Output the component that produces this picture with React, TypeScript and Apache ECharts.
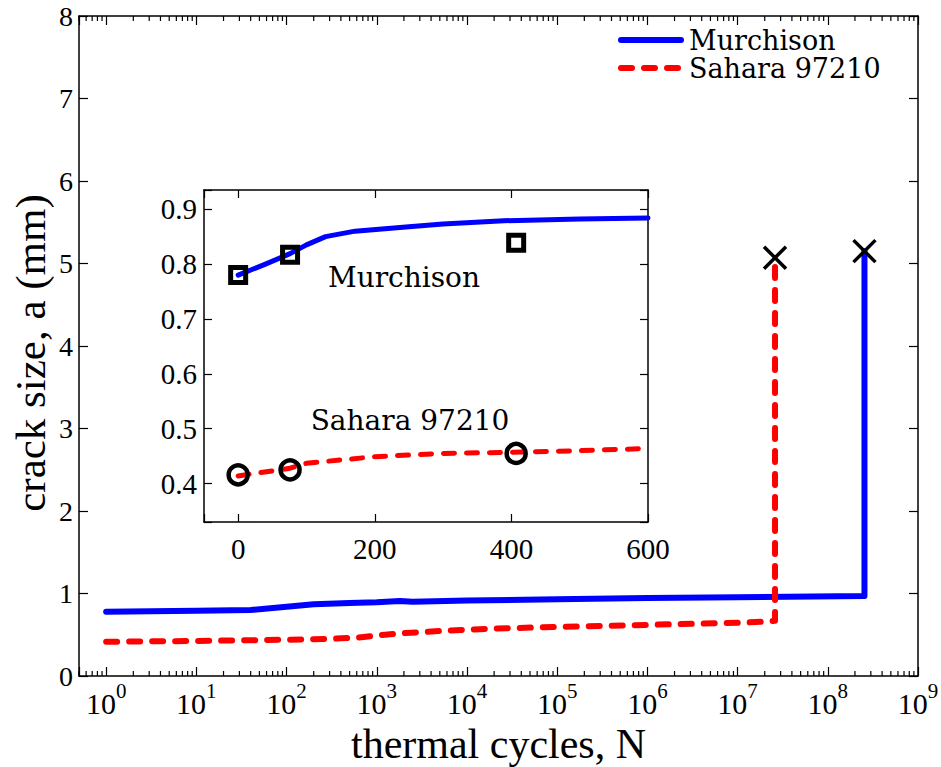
import React, { useEffect, useRef } from "react";
import * as echarts from "echarts";

// Main chart: crack size (mm) vs thermal cycles N (log scale)
const murchisonMain: [number, number][] = [
  [1, 0.78], [10, 0.79], [40, 0.8], [100, 0.84], [200, 0.87], [500, 0.885],
  [1000, 0.895], [1800, 0.91], [2500, 0.9], [10000, 0.915], [100000, 0.93],
  [1000000, 0.945], [10000000, 0.955], [255000000, 0.97], [255000000, 5.15],
];
const saharaMain: [number, number][] = [
  [1, 0.415], [10, 0.425], [100, 0.44], [300, 0.45], [600, 0.465], [1000, 0.49],
  [2000, 0.52], [6000, 0.55], [20000, 0.575], [100000, 0.595], [1000000, 0.62],
  [10000000, 0.645], [21000000, 0.66], [26000000, 0.67], [26000000, 5.07],
];
const failurePoints: [number, number][] = [
  [255000000, 5.15],
  [26000000, 5.07],
];

// Inset: early cycles, linear scale
const murchisonInsetLine: [number, number][] = [
  [0, 0.78], [40, 0.8], [76, 0.819], [100, 0.835], [128, 0.85], [171, 0.86],
  [250, 0.868], [300, 0.873], [389, 0.879], [500, 0.882], [600, 0.884],
];
const saharaInsetLine: [number, number][] = [
  [0, 0.414], [76, 0.428], [100, 0.437], [200, 0.449], [300, 0.455],
  [400, 0.457], [500, 0.46], [600, 0.464],
];
const murchisonMeasured: [number, number][] = [
  [0, 0.78], [76, 0.817], [407, 0.839],
];
const saharaMeasured: [number, number][] = [
  [0, 0.416], [76, 0.425], [407, 0.455],
];

const legendNames = ["Murchison", "Sahara 97210"];
const xAxisName = "thermal cycles, N";
const yAxisName = "crack size, a (mm)";

// minor tick values for the log axis
const minorTicks: number[] = [];
for (let k = -1; k <= 8; k++) {
  for (let m = 2; m <= 9; m++) {
    const v = m * Math.pow(10, k);
    if (v >= 0.5 && v <= 1e9) minorTicks.push(v);
  }
}

const BLUE = "#0000ff";
const RED = "#ff0000";
const SERIF = "Liberation Serif";
const CMLIKE = "DejaVu Serif";

export default function App() {
  const ref = useRef<HTMLDivElement>(null);
  useEffect(() => {
    document.body.style.margin = "0";
    const chart = echarts.init(ref.current!, null, { renderer: "svg" });
    const axisLine = { show: true, onZero: false, lineStyle: { color: "#000", width: 1.5 } };
    const mainTick = { show: true, inside: true, length: 9, lineStyle: { color: "#000", width: 1.2 } };
    const insetTick = { show: true, inside: true, length: 8, lineStyle: { color: "#000", width: 1.2 } };
    const logLabel = (v: number) => {
      const e = Math.log10(v);
      if (Math.abs(e - Math.round(e)) > 1e-6) return "";
      return `{b|10}{e|${Math.round(e)}}`;
    };
    const option: any = {
      animation: false,
      backgroundColor: "#fff",
      textStyle: { fontFamily: SERIF, color: "#000" },
      grid: [
        { left: 79, top: 16, width: 839, height: 660, show: false, containLabel: false, outerBoundsMode: "none" },
        {
          left: 204, top: 190, width: 444, height: 332, show: true, backgroundColor: "#fff", borderWidth: 0,
          containLabel: false, outerBoundsMode: "none",
        },
      ],
      legend: {
        data: legendNames,
        orient: "vertical",
        left: 613,
        top: 21,
        itemWidth: 60,
        itemHeight: 14,
        itemGap: 0,
        itemStyle: { color: "rgba(0,0,0,0)", borderWidth: 0, opacity: 0 },
        lineStyle: { width: 6, cap: "round" },
        textStyle: { fontFamily: CMLIKE, fontSize: 27, lineHeight: 28, color: "#000", padding: [0, 0, 0, 3] },
      },
      xAxis: [
        {
          type: "log", logBase: 10, gridIndex: 0, min: 0.5, max: 1e9, position: "bottom",
          axisLine, axisTick: mainTick, splitLine: { show: false },
          axisLabel: {
            margin: 4, formatter: logLabel,
            rich: {
              b: { fontSize: 30, fontFamily: SERIF, color: "#000", lineHeight: 38, verticalAlign: "bottom" },
              e: { fontSize: 21, fontFamily: SERIF, color: "#000", lineHeight: 21, verticalAlign: "top" },
            },
          },
          name: xAxisName, nameLocation: "middle", nameGap: 50, nameMoveOverlap: false,
          nameTextStyle: { fontFamily: SERIF, fontSize: 42, lineHeight: 36, color: "#000" },
        },
        {
          type: "log", logBase: 10, gridIndex: 0, min: 0.5, max: 1e9, position: "top",
          axisLine, axisTick: mainTick, splitLine: { show: false }, axisLabel: { show: false },
        },
        {
          type: "value", gridIndex: 1, min: -50, max: 600, splitNumber: 3, position: "bottom",
          axisLine, axisTick: insetTick, splitLine: { show: false },
          axisLabel: {
            margin: 12, fontSize: 29, fontFamily: SERIF, color: "#000",
            formatter: (v: number) => (Math.abs(v % 200) < 1e-6 ? String(v) : ""),
          },
        },
        {
          type: "value", gridIndex: 1, min: -50, max: 600, splitNumber: 3, position: "top",
          axisLine, axisTick: insetTick, splitLine: { show: false }, axisLabel: { show: false },
        },
      ],
      yAxis: [
        {
          type: "value", gridIndex: 0, min: 0, max: 8, interval: 1, position: "left",
          axisLine, axisTick: mainTick, splitLine: { show: false },
          axisLabel: { margin: 6, fontSize: 28, fontFamily: SERIF, color: "#000" },
          name: yAxisName, nameLocation: "middle", nameGap: 27, nameMoveOverlap: false,
          nameTextStyle: { fontFamily: SERIF, fontSize: 43, lineHeight: 43, color: "#000", padding: [0, 14, 0, 0] },
        },
        {
          type: "value", gridIndex: 0, min: 0, max: 8, interval: 1, position: "right",
          axisLine, axisTick: mainTick, splitLine: { show: false }, axisLabel: { show: false },
        },
        {
          type: "value", gridIndex: 1, min: 0.33, max: 0.935, splitNumber: 6, position: "left",
          axisLine, axisTick: insetTick, splitLine: { show: false },
          axisLabel: {
            margin: 7, fontSize: 29, fontFamily: SERIF, color: "#000",
            formatter: (v: number) => (Math.abs(v * 10 - Math.round(v * 10)) < 1e-6 ? v.toFixed(1) : ""),
          },
        },
        {
          type: "value", gridIndex: 1, min: 0.33, max: 0.935, splitNumber: 6, position: "right",
          axisLine, axisTick: insetTick, splitLine: { show: false }, axisLabel: { show: false },
        },
      ],
      series: [
        {
          name: "Murchison", type: "line", xAxisIndex: 0, yAxisIndex: 0, data: murchisonMain,
          symbol: "none", lineStyle: { color: BLUE, width: 6, cap: "round", join: "round" },
          itemStyle: { color: BLUE }, z: 3,
        },
        {
          name: "Sahara 97210", type: "line", xAxisIndex: 0, yAxisIndex: 0, data: saharaMain,
          symbol: "none", lineStyle: { color: RED, width: 6, type: [11, 12], cap: "round", join: "round" },
          itemStyle: { color: RED }, z: 3,
        },
        {
          name: "Murchison", type: "line", xAxisIndex: 2, yAxisIndex: 2, data: murchisonInsetLine,
          symbol: "none", lineStyle: { color: BLUE, width: 5, cap: "round", join: "round" },
          itemStyle: { color: BLUE }, z: 3,
        },
        {
          name: "Sahara 97210", type: "line", xAxisIndex: 2, yAxisIndex: 2, data: saharaInsetLine,
          symbol: "none", lineStyle: { color: RED, width: 5, type: [11, 12], cap: "round", join: "round" },
          itemStyle: { color: RED }, z: 3,
        },
        {
          name: "Murchison measured", type: "scatter", xAxisIndex: 2, yAxisIndex: 2, data: murchisonMeasured,
          symbol: "rect", symbolSize: 15,
          itemStyle: { color: "rgba(255,255,255,0)", borderColor: "#000", borderWidth: 5, opacity: 1 }, z: 4,
        },
        {
          name: "Sahara measured", type: "scatter", xAxisIndex: 2, yAxisIndex: 2, data: saharaMeasured,
          symbol: "circle", symbolSize: 19,
          itemStyle: { color: "rgba(255,255,255,0)", borderColor: "#000", borderWidth: 4.5, opacity: 1 }, z: 4,
        },
        {
          name: "failure", type: "scatter", xAxisIndex: 0, yAxisIndex: 0, data: failurePoints,
          symbol: "path://M0,0L10,10M10,0L0,10", symbolSize: 22, symbolKeepAspect: true,
          itemStyle: { color: "rgba(0,0,0,0)", borderColor: "#000", borderWidth: 3.5, opacity: 1 }, z: 5,
        },
        {
          name: "minor ticks", type: "custom", xAxisIndex: 0, yAxisIndex: 0, silent: true,
          data: minorTicks.map((v) => [v, 1]),
          renderItem: (params: any, api: any) => {
            const x = api.coord([api.value(0), 1])[0];
            const cs = params.coordSys;
            const st = { stroke: "#000", lineWidth: 1.2 };
            return {
              type: "group",
              children: [
                { type: "line", shape: { x1: x, y1: cs.y + cs.height, x2: x, y2: cs.y + cs.height - 5 }, style: st },
                { type: "line", shape: { x1: x, y1: cs.y, x2: x, y2: cs.y + 5 }, style: st },
              ],
            };
          },
          z: 1,
        },
      ],
      graphic: [
        {
          type: "text", x: 404, y: 277, z: 10,
          style: { text: "Murchison", font: `28px "${CMLIKE}"`, fill: "#000", align: "center", verticalAlign: "middle" },
        },
        {
          type: "text", x: 410, y: 420, z: 10,
          style: { text: "Sahara 97210", font: `28px "${CMLIKE}"`, fill: "#000", align: "center", verticalAlign: "middle" },
        },
      ],
    };
    chart.setOption(option);
    return () => chart.dispose();
  }, []);
  return <div ref={ref} style={{ width: 941, height: 767 }} />;
}
